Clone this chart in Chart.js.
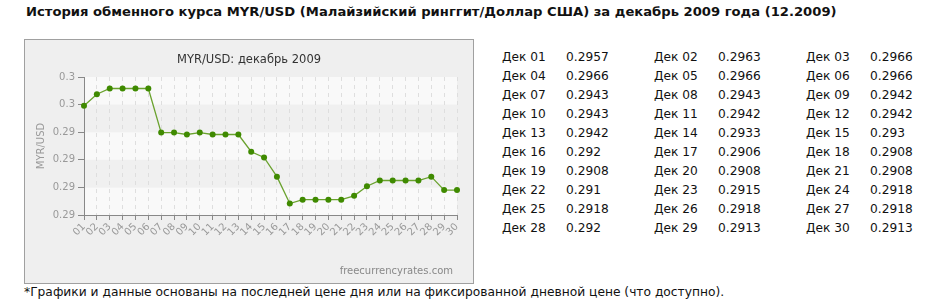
<!DOCTYPE html>
<html>
<head>
<meta charset="utf-8">
<script src="https://cdn.jsdelivr.net/npm/chart.js@4/dist/chart.umd.min.js"></script>
<style>
  html, body { margin: 0; padding: 0; background: #fff; width: 946px; height: 306px; overflow: hidden; }
  body { position: relative; font-family: "DejaVu Sans", Verdana, sans-serif; }
  #title { position: absolute; left: 26px; top: 4px; font-size: 13.15px; font-weight: bold; color: #111; white-space: nowrap; }
  #box { position: absolute; left: 24px; top: 39px; width: 448px; height: 243px; border: 1px solid #a0a0a0; background: #efefef; }
  #box canvas { display: block; }
  #table { position: absolute; left: 0; top: 0; }
  .cell { position: absolute; font-size: 12.2px; color: #111; white-space: nowrap; line-height: 14px; }
  #foot { position: absolute; left: 24px; top: 285px; font-size: 12.25px; color: #111; white-space: nowrap; }
</style>
</head>
<body>
<div id="title">История обменного курса MYR/USD (Малайзийский ринггит/Доллар США) за декабрь 2009 года (12.2009)</div>
<div id="box"><canvas id="c" width="448" height="243"></canvas></div>
<div id="table"></div>
<div id="foot">*Графики и данные основаны на последней цене дня или на фиксированной дневной цене (что доступно).</div>
<script>
const days = ["01","02","03","04","05","06","07","08","09","10","11","12","13","14","15","16","17","18","19","20","21","22","23","24","25","26","27","28","29","30"];
const rates = [0.2957,0.2963,0.2966,0.2966,0.2966,0.2966,0.2943,0.2943,0.2942,0.2943,0.2942,0.2942,0.2942,0.2933,0.293,0.292,0.2906,0.2908,0.2908,0.2908,0.2908,0.291,0.2915,0.2918,0.2918,0.2918,0.2918,0.292,0.2913,0.2913];
const rateLabels = ["0.2957","0.2963","0.2966","0.2966","0.2966","0.2966","0.2943","0.2943","0.2942","0.2943","0.2942","0.2942","0.2942","0.2933","0.293","0.292","0.2906","0.2908","0.2908","0.2908","0.2908","0.291","0.2915","0.2918","0.2918","0.2918","0.2918","0.292","0.2913","0.2913"];
const yTicks = [0.29, 0.29144, 0.29288, 0.29432, 0.29576, 0.2972];
const monthAbbr = "Дек";
const chartTitle = "MYR/USD: декабрь 2009";
const yTitle = "MYR/USD";
const watermark = "freecurrencyrates.com";

// table
const tbl = document.getElementById('table');
const colLabelX = [502, 654, 806];
const colValueX = [566, 718, 870];
for (let i = 0; i < days.length; i++) {
  const row = Math.floor(i / 3), col = i % 3;
  const y = 50 + row * 19;
  const a = document.createElement('div');
  a.className = 'cell'; a.style.left = colLabelX[col] + 'px'; a.style.top = y + 'px';
  a.textContent = monthAbbr + ' ' + days[i];
  const b = document.createElement('div');
  b.className = 'cell'; b.style.left = colValueX[col] + 'px'; b.style.top = y + 'px';
  b.textContent = rateLabels[i];
  tbl.appendChild(a); tbl.appendChild(b);
}

const FONT = '"DejaVu Sans", Verdana, sans-serif';

const decor = {
  id: 'decor',
  beforeDraw(chart) {
    const ctx = chart.ctx, a = chart.chartArea, y = chart.scales.y;
    ctx.save();
    const ticks = y.ticks;
    for (let i = 0; i < ticks.length - 1; i++) {
      const y1 = y.getPixelForValue(ticks[i].value);
      const y2 = y.getPixelForValue(ticks[i + 1].value);
      ctx.fillStyle = (i % 2 === 0) ? '#f9f9f9' : '#f0f0f0';
      ctx.fillRect(a.left, y2, a.right - a.left, y1 - y2);
    }
    ctx.restore();
  },
  afterDraw(chart) {
    const ctx = chart.ctx, a = chart.chartArea;
    ctx.save();
    ctx.fillStyle = '#333';
    ctx.font = '11.5px ' + FONT;
    ctx.textAlign = 'center';
    ctx.textBaseline = 'middle';
    ctx.fillText(chartTitle, 224, 20);
    ctx.fillStyle = '#888';
    ctx.font = '10px ' + FONT;
    ctx.textAlign = 'right';
    ctx.fillText(watermark, 428, 231);
    ctx.translate(16, (a.top + a.bottom) / 2);
    ctx.rotate(-Math.PI / 2);
    ctx.textAlign = 'center';
    ctx.fillStyle = '#999';
    ctx.font = '10px ' + FONT;
    ctx.fillText(yTitle, 0, 0);
    ctx.restore();
  }
};

new Chart(document.getElementById('c'), {
  type: 'line',
  data: {
    labels: days,
    datasets: [{
      data: rates,
      borderColor: '#6aa22e',
      borderWidth: 1.3,
      backgroundColor: '#3f8a00',
      pointBackgroundColor: '#3f8a00',
      pointBorderColor: '#3f8a00',
      pointRadius: 3,
      pointBorderWidth: 0,
      tension: 0,
      fill: false
    }]
  },
  plugins: [decor],
  options: {
    responsive: false,
    animation: false,
    events: [],
    layout: { padding: { top: 37, right: 16, left: 0, bottom: 0 } },
    plugins: { legend: { display: false }, tooltip: { enabled: false }, title: { display: false } },
    scales: {
      x: {
        offset: false,
        afterFit(s) { s.height = 68; },
        grid: { display: true, drawOnChartArea: true, drawTicks: true, color: '#dedede', lineWidth: 1, tickColor: '#888', tickLength: 5 },
        border: { display: true, color: '#888', width: 1, dash: [4, 4] },
        ticks: { autoSkip: false, maxRotation: 45, minRotation: 45, color: '#999', font: { family: FONT, size: 10 }, padding: 1 }
      },
      y: {
        min: 0.29, max: 0.2972,
        afterFit(s) { s.width = 59; },
        afterBuildTicks(s) { s.ticks = yTicks.map(v => ({ value: v })); },
        grid: { display: true, drawOnChartArea: false, drawTicks: true, tickColor: '#888', tickLength: 6 },
        border: { display: true, color: '#888', width: 1 },
        ticks: { color: '#999', font: { family: FONT, size: 10 }, padding: 3,
          callback: v => String(Number(Number(v).toFixed(2))) }
      }
    }
  }
});
</script>
</body>
</html>
